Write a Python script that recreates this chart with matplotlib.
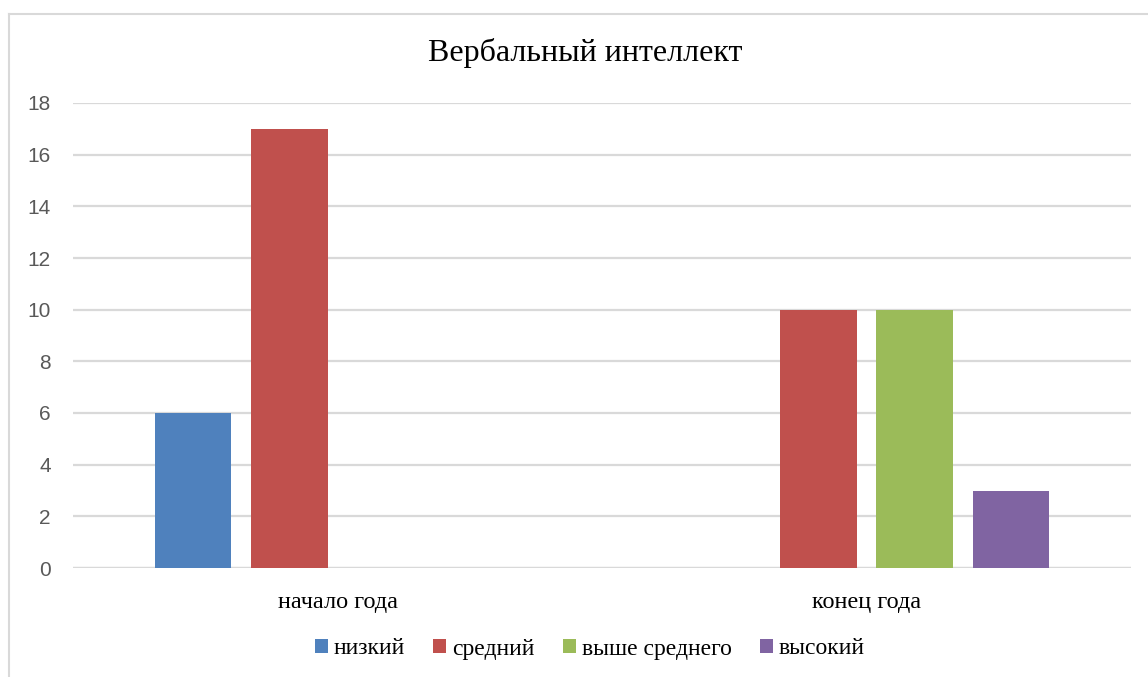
import numpy as np
import matplotlib.pyplot as plt
from matplotlib.lines import Line2D
from matplotlib.patches import Patch

categories = ["начало года", "конец года"]
series_names = ["низкий", "средний", "выше среднего", "высокий"]
nizkiy = [6, 0]
sredniy = [17, 10]
vyshe_srednego = [0, 10]
vysokiy = [0, 3]
colors = ["#4F81BD", "#C0504D", "#9BBB59", "#8064A2"]
yticks = [0, 2, 4, 6, 8, 10, 12, 14, 16, 18]

serif = "Liberation Serif"
sans = "Liberation Sans"

fig = plt.figure(figsize=(11.48, 6.77), dpi=100)
ax = fig.add_axes([73 / 1148, 1 - 568 / 677, (1131 - 73) / 1148, (568 - 103) / 677])

x = np.arange(len(categories))
width = 0.1437
step = 0.1815
all_series = [nizkiy, sredniy, vyshe_srednego, vysokiy]
for i, vals in enumerate(all_series):
    off = (i - 1.5) * step
    ax.bar(x + off, vals, width, color=colors[i], zorder=3)

ax.set_xlim(-0.5, 1.5)
ax.set_ylim(0, 18)
ax.set_yticks(yticks)
ax.set_yticklabels([str(t) for t in yticks], fontname=sans, fontsize=15, color="#595959")
ax.set_xticks(x)
ax.set_xticklabels(categories, fontname=serif, fontsize=17.5, color="black")
ax.tick_params(axis="both", length=0)
ax.tick_params(axis="y", pad=16)
ax.tick_params(axis="x", pad=17)
ax.yaxis.grid(True, color="#D9D9D9", linewidth=1.6, zorder=0)
for s in ax.spines.values():
    s.set_visible(False)
ax.axhline(0, color="#D9D9D9", linewidth=1.6, zorder=2)

fig.text(585 / 1148, 1 - 53 / 677, "Вербальный интеллект", ha="center", va="center",
         fontname=serif, fontsize=23)

handles = [Patch(facecolor=c, edgecolor="none") for c in colors]
fig.legend(handles, series_names, loc="center", bbox_to_anchor=(590 / 1148, 1 - 649 / 677),
           ncol=4, frameon=False, prop={"family": serif, "size": 17},
           handlelength=0.55, handleheight=0.55, handletextpad=0.25, columnspacing=1.2)

# chart border (left and top edges visible)
fig.add_artist(Line2D([8.5 / 1148, 8.5 / 1148], [0, 1 - 13.5 / 677], color="#D9D9D9", linewidth=1.5))
fig.add_artist(Line2D([8.5 / 1148, 1], [1 - 13.5 / 677, 1 - 13.5 / 677], color="#D9D9D9", linewidth=1.5))

fig.savefig("out.png", dpi=100)
